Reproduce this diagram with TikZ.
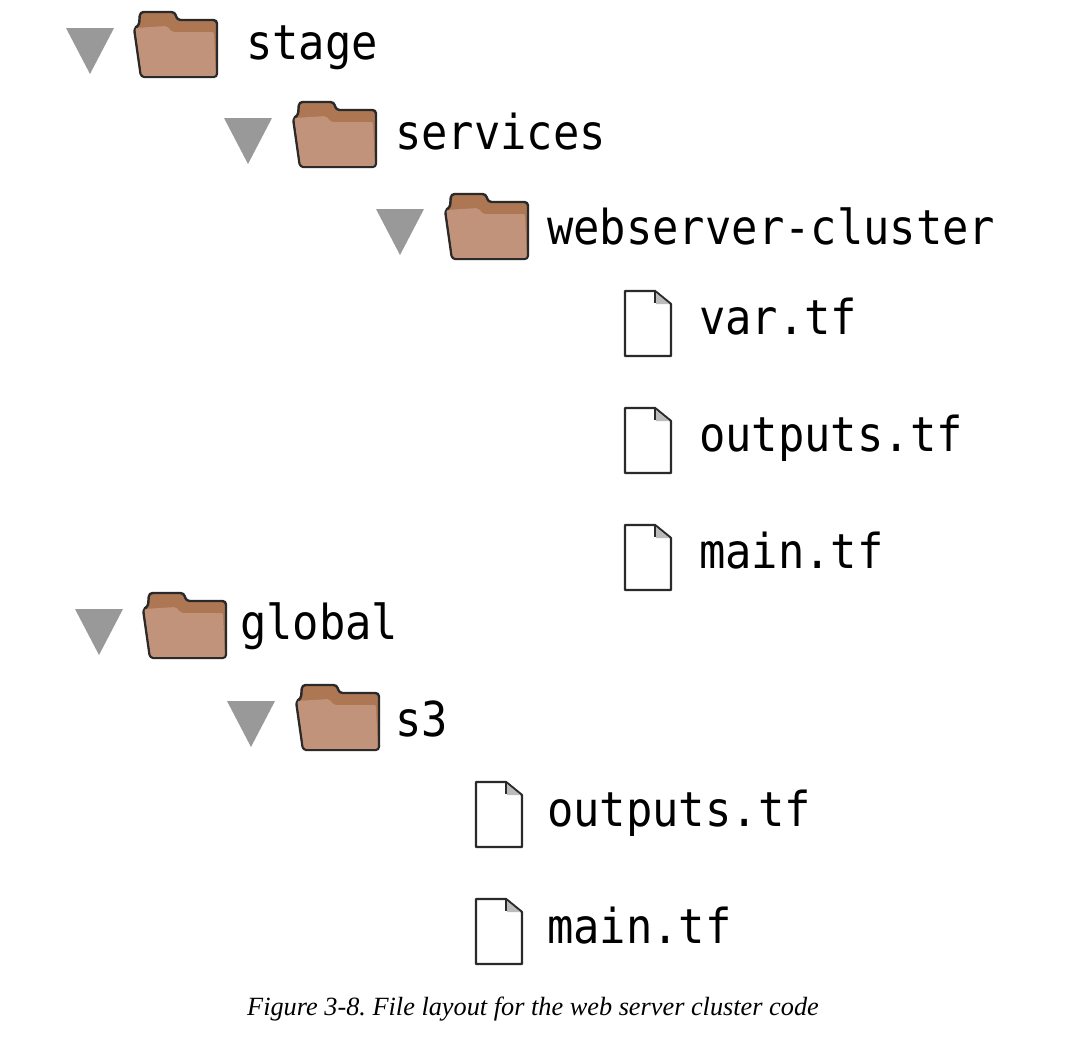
\documentclass[tikz,border=0pt]{standalone}
\usepackage{fontspec}
\setmainfont{Liberation Serif}
\newfontfamily\labelfont[FakeStretch=0.91]{DejaVu Sans Mono}
\definecolor{tabbrown}{HTML}{AE7753}
\definecolor{frontbrown}{HTML}{C1937B}
\definecolor{edgedark}{HTML}{2A2A2A}
\definecolor{arrowgrey}{HTML}{999999}
\definecolor{foldgrey}{HTML}{BBBBBB}
\tikzset{
  x=1pt,y=-1pt,
  treelabel/.style={anchor=base west,inner sep=0pt,font=\labelfont\fontsize{48.1}{56}\selectfont,text=black},
  captiontext/.style={anchor=base west,inner sep=0pt,font=\itshape\fontsize{26.3}{30}\selectfont,text=black},
  pics/folder/.style={code={
    \draw[fill=tabbrown,draw=edgedark,line width=2.4pt,line join=round,rounded corners=3.5pt]
      (6,0)--(41,0)--(43,8)--(83,8)--(83,65)--(7,65)--(0,16)--(5,14)--cycle;
    \fill[frontbrown,rounded corners=2pt] (1.4,16)--(33,14)--(38,20)--(80,20)--(81.8,63.8)--(8,63.8)--cycle;
  }},
  pics/docfile/.style={code={
    \draw[fill=white,draw=edgedark,line width=2.2pt,line join=round]
      (0,0)--(30,0)--(46,13)--(46,65)--(0,65)--cycle;
    \fill[foldgrey] (31,2)--(44.5,13)--(31,13)--cycle;
    \draw[edgedark,line width=1.6pt] (30,0)--(30,12);
  }},
  pics/opentri/.style={code={
    \fill[arrowgrey] (0,0)--(48,0)--(24,46)--cycle;
  }},
}
\begin{document}
\begin{tikzpicture}
\useasboundingbox (0,0) rectangle (1082,1050);
\fill[white] (0,0) rectangle (1082,1050);
% triangles
\pic at (66,28) {opentri};
\pic at (224,118) {opentri};
\pic at (376,209) {opentri};
\pic at (75,609) {opentri};
\pic at (227,701) {opentri};
% folders
\pic at (134,12) {folder};
\pic at (293,102) {folder};
\pic at (445,194) {folder};
\pic at (143,593) {folder};
\pic at (296,685) {folder};
% files
\pic at (625,291) {docfile};
\pic at (625,408) {docfile};
\pic at (625,525) {docfile};
\pic at (476,782) {docfile};
\pic at (476,899) {docfile};
% labels
\node[treelabel] (stage) at (246,59) {stage};
\node[treelabel] (services) at (395,149) {services};
\node[treelabel] (webserver) at (547,244) {webserver-cluster};
\node[treelabel] (var) at (699,334) {var.tf};
\node[treelabel] (outa) at (699,451) {outputs.tf};
\node[treelabel] (maina) at (699,568) {main.tf};
\node[treelabel] (global) at (240,639) {global};
\node[treelabel] (s3) at (395,736) {s3};
\node[treelabel] (outb) at (547,826) {outputs.tf};
\node[treelabel] (mainb) at (547,943) {main.tf};
\node[captiontext] (caption) at (247,1015) {\frenchspacing Figure 3-8. File layout for the web server cluster code};
\end{tikzpicture}
\end{document}
